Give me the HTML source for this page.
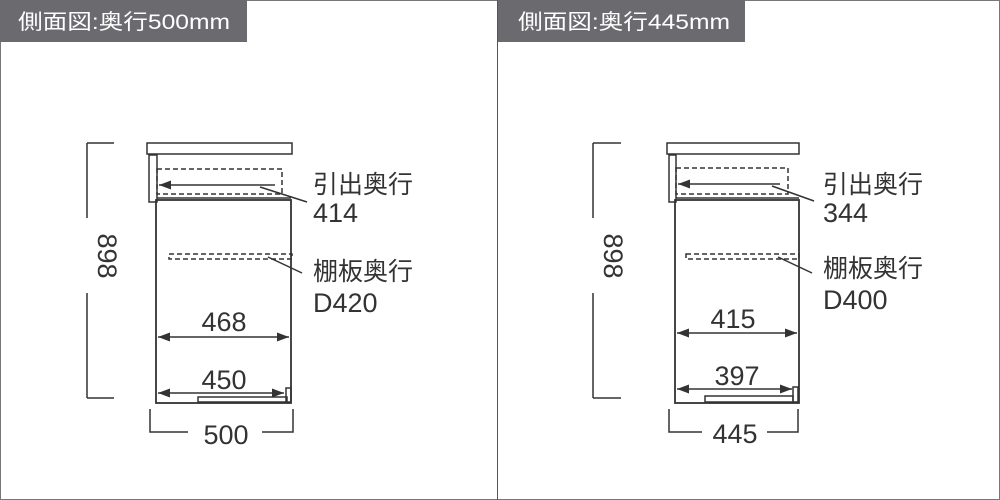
<!DOCTYPE html>
<html><head><meta charset="utf-8"><style>
html,body{margin:0;padding:0;background:#fff}
svg{display:block}
text{font-family:"Liberation Sans","Noto Sans CJK JP",sans-serif;fill:#333}
</style></head><body>
<svg width="1000" height="500" viewBox="0 0 1000 500" xmlns="http://www.w3.org/2000/svg">
<defs><marker id="a" viewBox="0 0 8 6" refX="8" refY="3" markerWidth="8" markerHeight="6" orient="auto-start-reverse"><path d="M0,0L8,3L0,6z" fill="#333"/></marker></defs>
<rect x="0.5" y="0.5" width="999" height="499" fill="#fff" stroke="#777"/>
<line x1="497.5" y1="0" x2="497.5" y2="500" stroke="#555"/>
<rect x="0" y="0" width="247" height="42" fill="#6b6a6e"/>
<rect x="498" y="0" width="247" height="42" fill="#6b6a6e"/>
<text x="18" y="29" font-size="21" textLength="212" lengthAdjust="spacingAndGlyphs" style="fill:#fff">側面図:奥行500mm</text>
<text x="518" y="29" font-size="21" textLength="212" lengthAdjust="spacingAndGlyphs" style="fill:#fff">側面図:奥行445mm</text>

<g stroke="#333" fill="none" stroke-width="1.5">
<line x1="87" y1="143" x2="87" y2="218"/><line x1="87" y1="293" x2="87" y2="398"/>
<line x1="87" y1="143" x2="114" y2="143"/><line x1="87" y1="398" x2="114" y2="398"/>
<rect x="147" y="143" width="145" height="11"/>
<rect x="149" y="155" width="8" height="47"/>
<rect x="156" y="200" width="135" height="203" stroke-width="1.8"/>
<line x1="157" y1="198" x2="291" y2="198"/>
<rect x="157" y="169" width="125" height="25" stroke-dasharray="5,3"/>
<line x1="159" y1="185" x2="275" y2="185" marker-start="url(#a)"/>
<line x1="260" y1="187" x2="307" y2="202"/>
<rect x="169" y="254" width="123" height="5" stroke-dasharray="5,3"/>
<line x1="268" y1="257" x2="302" y2="273"/>
<line x1="158" y1="337" x2="289" y2="337" marker-start="url(#a)" marker-end="url(#a)"/>
<line x1="158" y1="393" x2="284" y2="393" marker-start="url(#a)" marker-end="url(#a)"/>
<rect x="198" y="397" width="89" height="5"/>
<rect x="286" y="388" width="5" height="14"/>
<polyline points="150,409 150,432 188,432"/><polyline points="262,432 293,432 293,409"/>
<line x1="593" y1="143" x2="593" y2="218"/><line x1="593" y1="293" x2="593" y2="398"/>
<line x1="593" y1="143" x2="621" y2="143"/><line x1="593" y1="398" x2="621" y2="398"/>
<rect x="667" y="143" width="132" height="11"/>
<rect x="669" y="155" width="7" height="47"/>
<rect x="675" y="200" width="124" height="203" stroke-width="1.8"/>
<line x1="676" y1="198" x2="799" y2="198"/>
<rect x="676" y="168" width="112" height="26" stroke-dasharray="5,3"/>
<line x1="678" y1="184" x2="780" y2="184" marker-start="url(#a)"/>
<line x1="772" y1="186" x2="814" y2="201"/>
<rect x="686" y="254" width="113" height="5" stroke-dasharray="5,3"/>
<line x1="778" y1="257" x2="812" y2="273"/>
<line x1="677" y1="333" x2="797" y2="333" marker-start="url(#a)" marker-end="url(#a)"/>
<line x1="677" y1="389" x2="792" y2="389" marker-start="url(#a)" marker-end="url(#a)"/>
<rect x="705" y="396" width="88" height="6"/>
<rect x="793" y="387" width="5" height="15"/>
<polyline points="669,409 669,432 702,432"/><polyline points="767,432 798,432 798,409"/>
</g>

<g font-size="27">
<text x="224" y="331" text-anchor="middle">468</text>
<text x="224" y="389" text-anchor="middle">450</text>
<text x="226" y="444" text-anchor="middle">500</text>
<text transform="translate(98,256) rotate(90)" text-anchor="middle">898</text>
<text x="313" y="222">414</text>
<text x="313" y="312">D420</text>
<text x="733" y="328" text-anchor="middle">415</text>
<text x="737" y="385" text-anchor="middle">397</text>
<text x="735" y="443" text-anchor="middle">445</text>
<text transform="translate(604,256) rotate(90)" text-anchor="middle">898</text>
<text x="823" y="222">344</text>
<text x="823" y="309">D400</text>
</g>
<g font-size="25">
<text x="313" y="193">引出奥行</text>
<text x="313" y="280">棚板奥行</text>
<text x="823" y="193">引出奥行</text>
<text x="823" y="277">棚板奥行</text>
</g>
</svg>
</body></html>
